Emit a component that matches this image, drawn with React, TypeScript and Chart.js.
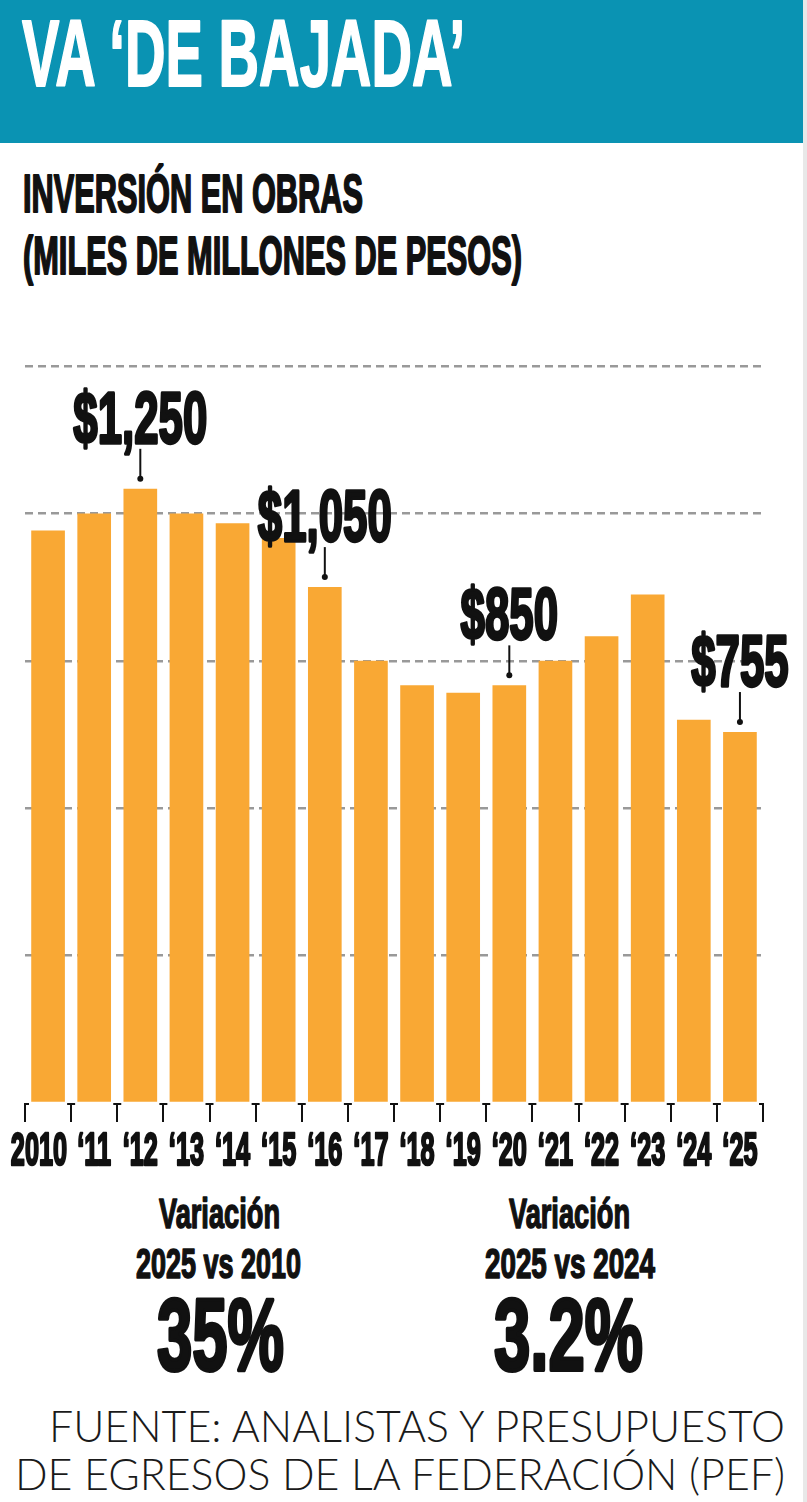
import React, { useEffect, useRef } from 'react';
import { Chart, registerables } from 'chart.js';

Chart.register(...registerables);

// Public works investment, billions of pesos
const YEARS = ['2010', '‘11', '‘12', '‘13', '‘14', '‘15', '‘16', '‘17', '‘18', '‘19', '‘20', '‘21', '‘22', '‘23', '‘24', '‘25'];
const INVESTMENT = [1165, 1200, 1250, 1200, 1180, 1150, 1050, 900, 850, 835, 850, 900, 950, 1035, 780, 755];
// Bars that carry a value callout
const CALLOUT_INDEXES = [2, 6, 10, 15];
const Y_MAX = 1500;
const Y_STEP = 300;

const TITLE = 'VA ‘DE BAJADA’';
const SUBTITLE_LINES = ['INVERSIÓN EN OBRAS', '(MILES DE MILLONES DE PESOS)'];
const CHANGE_HEADINGS = ['Variación', 'Variación'];
const CHANGE_PERIODS = ['2025 vs 2010', '2025 vs 2024'];
const CHANGE_VALUES = ['35%', '3.2%'];
const SOURCE_LINES = ['FUENTE: ANALISTAS Y PRESUPUESTO', 'DE EGRESOS DE LA FEDERACIÓN (PEF)'];

const COND = '"Liberation Sans", Arial, sans-serif';
const INK = '#111';
const BAR = '#F9A834';
const TEAL = '#0A93B3';

function condensedText(
  ctx: CanvasRenderingContext2D,
  text: string,
  x: number,
  y: number,
  size: number,
  sx: number,
  align: CanvasTextAlign,
  thicken: number
) {
  ctx.save();
  ctx.translate(x, y);
  ctx.scale(sx, 1);
  ctx.font = `bold ${size}px ${COND}`;
  ctx.textAlign = align;
  ctx.textBaseline = 'alphabetic';
  ctx.fillStyle = INK;
  ctx.fillText(text, 0, 0);
  if (thicken > 0) {
    ctx.strokeStyle = INK;
    ctx.lineWidth = thicken;
    ctx.lineJoin = 'round';
    ctx.strokeText(text, 0, 0);
  }
  ctx.restore();
}

const money = (v: number) => '$' + v.toLocaleString('en-US');

// Draws tick caps, year labels and the value callouts
const annotations = {
  id: 'annotations',
  afterDraw(chart: any) {
    const { ctx, chartArea } = chart;
    const xs = chart.scales.x;
    const bars = chart.getDatasetMeta(0).data;
    const step = xs.getPixelForValue(1) - xs.getPixelForValue(0);
    const n = YEARS.length;

    ctx.save();
    ctx.strokeStyle = INK;
    ctx.lineWidth = 2;
    for (let i = 0; i <= n; i++) {
      const px = xs.getPixelForValue(i) - step / 2;
      const left = i === 0 ? 1 : 4;
      const right = i === n ? 1 : 4;
      ctx.beginPath();
      ctx.moveTo(px - left, chartArea.bottom + 1);
      ctx.lineTo(px + right, chartArea.bottom + 1);
      ctx.stroke();
    }
    ctx.restore();

    const labelY = chartArea.bottom + 62;
    YEARS.forEach((label, i) => {
      const cx = xs.getPixelForValue(i);
      if (i === 0) {
        condensedText(ctx, label, cx + step / 2 - 4, labelY, 46, 0.55, 'right', 2.6);
      } else {
        condensedText(ctx, label, cx, labelY, 46, 0.55, 'center', 2.6);
      }
    });

    CALLOUT_INDEXES.forEach((i) => {
      const bar = bars[i];
      const cx = bar.x;
      const dotY = bar.y - 10;
      const lineTop = dotY - 30;
      ctx.save();
      ctx.strokeStyle = INK;
      ctx.fillStyle = INK;
      ctx.lineWidth = 2;
      ctx.beginPath();
      ctx.moveTo(cx, lineTop);
      ctx.lineTo(cx, dotY);
      ctx.stroke();
      ctx.beginPath();
      ctx.arc(cx, dotY, 3, 0, Math.PI * 2);
      ctx.fill();
      ctx.restore();
      condensedText(ctx, money(INVESTMENT[i]), cx, lineTop - 6, 73, 0.6, 'center', 3.4);
    });
  },
};

function InvestmentChart() {
  const ref = useRef<HTMLCanvasElement | null>(null);
  useEffect(() => {
    if (!ref.current) return;
    const chart = new Chart(ref.current, {
      type: 'bar',
      data: {
        labels: YEARS,
        datasets: [
          {
            data: INVESTMENT,
            backgroundColor: BAR,
            borderWidth: 0,
            barPercentage: 0.73,
            categoryPercentage: 1,
          },
        ],
      },
      options: {
        animation: false,
        responsive: true,
        maintainAspectRatio: false,
        layout: { padding: { left: 25, right: 44, top: 76, bottom: 58 } },
        plugins: { legend: { display: false }, tooltip: { enabled: false }, title: { display: false } },
        scales: {
          x: {
            offset: true,
            grid: {
              offset: true,
              drawOnChartArea: false,
              drawTicks: true,
              tickLength: 19,
              color: INK,
              lineWidth: 2,
            },
            border: { display: false },
            ticks: { display: false },
          },
          y: {
            min: 0,
            max: Y_MAX,
            ticks: { display: false, stepSize: Y_STEP },
            grid: {
              drawTicks: false,
              lineWidth: 2.5,
              color: (c: any) => (c.tick && c.tick.value === 0 ? 'rgba(0,0,0,0)' : '#999999'),
            },
            border: { display: false, dash: [8, 5] },
          },
        },
      },
      plugins: [annotations],
    });
    return () => chart.destroy();
  }, []);
  return <canvas ref={ref} />;
}

type FitProps = {
  x: number;
  y: number;
  w: number;
  size: number;
  text: string;
  fill?: string;
  family?: string;
  weight?: number;
  stroke?: number;
};

function FitText({ x, y, w, size, text, fill = INK, family = COND, weight = 700, stroke = 0 }: FitProps) {
  return (
    <text
      x={x}
      y={y}
      textLength={w}
      lengthAdjust="spacingAndGlyphs"
      fontSize={size}
      fontFamily={family}
      fontWeight={weight}
      fill={fill}
      stroke={stroke > 0 ? fill : 'none'}
      strokeWidth={stroke}
      strokeLinejoin="round"
    >
      {text}
    </text>
  );
}

export default function App() {
  return (
    <div style={{ position: 'absolute', left: 0, top: 0, width: 807, height: 1502, background: '#fff', overflow: 'hidden' }}>
      <svg width={807} height={1502} style={{ position: 'absolute', left: 0, top: 0 }}>
        <rect x={0} y={0} width={803} height={143} fill={TEAL} />
        <rect x={803} y={0} width={4} height={1502} fill="#e8e8e8" />
        <FitText x={22} y={86} w={443} size={95} text={TITLE} fill="#fff" stroke={2} />

        <FitText x={23} y={212} w={340} size={53} text={SUBTITLE_LINES[0]} stroke={2} />
        <FitText x={23} y={274} w={499} size={53} text={SUBTITLE_LINES[1]} stroke={2} />

        <FitText x={159} y={1228} w={121} size={42} text={CHANGE_HEADINGS[0]} stroke={1.6} />
        <FitText x={136} y={1278} w={165} size={42} text={CHANGE_PERIODS[0]} stroke={1.6} />
        <FitText x={157} y={1370} w={127} size={102} text={CHANGE_VALUES[0]} stroke={4} />

        <FitText x={509} y={1228} w={121} size={42} text={CHANGE_HEADINGS[1]} stroke={1.6} />
        <FitText x={485} y={1278} w={170} size={42} text={CHANGE_PERIODS[1]} stroke={1.6} />
        <FitText x={494} y={1370} w={149} size={102} text={CHANGE_VALUES[1]} stroke={4} />

        <FitText x={49} y={1442} w={736} size={43} text={SOURCE_LINES[0]} family="Lato, 'Open Sans', sans-serif" weight={300} fill="#1a1a1a" />
        <FitText x={15} y={1490} w={770} size={43} text={SOURCE_LINES[1]} family="Lato, 'Open Sans', sans-serif" weight={300} fill="#1a1a1a" />
      </svg>
      <div style={{ position: 'absolute', left: 0, top: 290, width: 807, height: 890 }}>
        <InvestmentChart />
      </div>
    </div>
  );
}
